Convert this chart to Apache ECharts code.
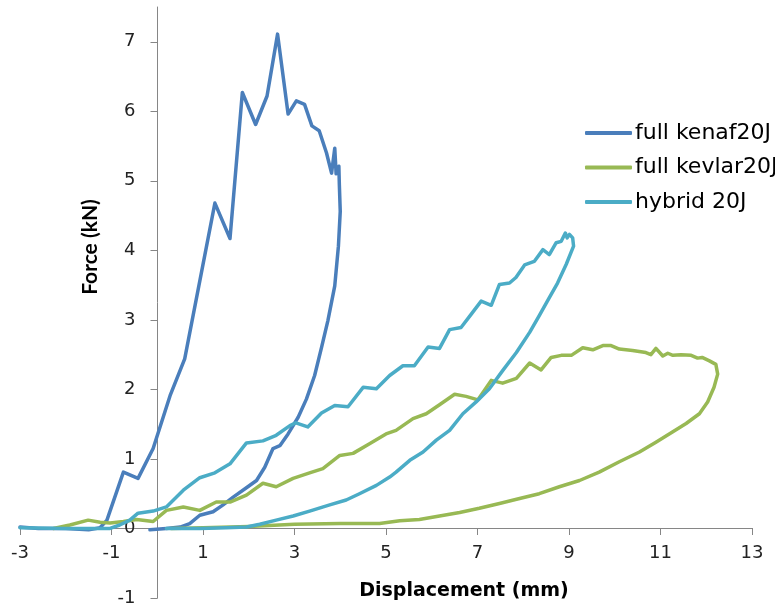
<!DOCTYPE html>
<html>
<head>
<meta charset="utf-8">
<script src="https://cdn.jsdelivr.net/npm/echarts@6/dist/echarts.min.js"></script>
<style>
  html, body { margin: 0; padding: 0; background: #fff; }
  #chart { width: 775px; height: 607px; }
</style>
</head>
<body>
<div id="chart"></div>
<script>
var seriesNames = ['full kenaf20J', 'full kevlar20J', 'hybrid 20J'];
var xTitle = 'Displacement (mm)';
var yTitle = 'Force (kN)';
var xTicks = [-3, -1, 1, 3, 5, 7, 9, 11, 13];
var yTicks = [-1, 0, 1, 2, 3, 4, 5, 6, 7];

var kenafX = [-3, -2.6, -2, -1.5, -1.25, -1.1, -0.74, -0.42, -0.09, 0.28, 0.6, 1.26, 1.59, 1.86, 2.15, 2.4, 2.63, 2.86, 3.04, 3.22, 3.38, 3.54, 3.7, 3.81, 3.88, 3.91, 3.97, 3.98, 4.0, 3.96, 3.88, 3.73, 3.59, 3.44, 3.26, 3.08, 2.86, 2.68, 2.53, 2.35, 2.17, 1.98, 1.66, 1.44, 1.22, 0.93, 0.71, 0.5, 0.2, -0.16];
var kenafY = [0.02, 0, 0, -0.02, 0.01, 0.12, 0.81, 0.72, 1.15, 1.91, 2.44, 4.68, 4.17, 6.27, 5.81, 6.22, 7.11, 5.96, 6.15, 6.1, 5.79, 5.72, 5.4, 5.11, 5.47, 5.1, 5.21, 4.95, 4.56, 4.06, 3.49, 2.99, 2.6, 2.2, 1.86, 1.6, 1.36, 1.19, 1.15, 0.88, 0.69, 0.6, 0.45, 0.34, 0.24, 0.19, 0.07, 0.02, 0, -0.02];

var kevlarX = [-2.27, -1.91, -1.51, -1.25, -1.03, -0.74, -0.45, -0.09, 0.2, 0.57, 0.93, 1.29, 1.59, 1.95, 2.31, 2.6, 2.97, 3.33, 3.62, 3.99, 4.28, 4.64, 5.0, 5.22, 5.59, 5.88, 6.17, 6.5, 6.75, 7.01, 7.3, 7.55, 7.85, 8.14, 8.39, 8.61, 8.83, 9.05, 9.3, 9.52, 9.74, 9.92, 10.1, 10.39, 10.68, 10.79, 10.9, 11.05, 11.16, 11.27, 11.45, 11.67, 11.81, 11.91, 12.07, 12.21, 12.25, 12.17, 12.03, 11.85, 11.56, 11.27, 10.9, 10.54, 10.1, 9.66, 9.23, 8.79, 8.35, 7.92, 7.48, 7.04, 6.61, 6.17, 5.73, 5.3, 4.86, 4.0, 3.0, 2.0, 1.0, 0.3];
var kevlarY = [0, 0.05, 0.12, 0.09, 0.08, 0.1, 0.13, 0.1, 0.26, 0.31, 0.26, 0.38, 0.38, 0.48, 0.65, 0.6, 0.72, 0.8, 0.86, 1.05, 1.08, 1.22, 1.36, 1.41, 1.58, 1.65, 1.78, 1.93, 1.9, 1.85, 2.13, 2.09, 2.16, 2.38, 2.28, 2.46, 2.49, 2.49, 2.6, 2.57, 2.63, 2.63, 2.58, 2.56, 2.53, 2.5, 2.59, 2.48, 2.52, 2.49, 2.5, 2.49, 2.45, 2.46, 2.41, 2.36, 2.22, 2.03, 1.82, 1.65, 1.51, 1.39, 1.24, 1.1, 0.96, 0.81, 0.69, 0.6, 0.5, 0.43, 0.36, 0.29, 0.23, 0.18, 0.13, 0.11, 0.07, 0.07, 0.06, 0.03, 0.01, 0];

var hybridX = [-3, -2, -1.03, -0.82, -0.6, -0.42, -0.09, 0.2, 0.57, 0.93, 1.26, 1.59, 1.95, 2.31, 2.6, 2.9, 3.03, 3.29, 3.59, 3.88, 4.17, 4.5, 4.79, 5.08, 5.37, 5.62, 5.92, 6.17, 6.39, 6.64, 6.86, 7.08, 7.3, 7.48, 7.7, 7.84, 8.03, 8.24, 8.43, 8.57, 8.72, 8.83, 8.92, 8.96, 9.01, 9.08, 9.1, 8.94, 8.75, 8.57, 8.35, 8.14, 7.85, 7.55, 7.26, 6.97, 6.68, 6.39, 6.1, 5.81, 5.52, 5.22, 5.08, 4.79, 4.42, 4.13, 3.77, 3.33, 2.97, 2.6, 2.24, 1.95, 1.5, 0.93, 0.2];
var hybridY = [0.01, 0, 0, 0.05, 0.12, 0.22, 0.25, 0.31, 0.55, 0.73, 0.8, 0.93, 1.23, 1.26, 1.34, 1.48, 1.52, 1.46, 1.66, 1.77, 1.75, 2.03, 2.01, 2.2, 2.34, 2.34, 2.61, 2.59, 2.86, 2.89, 3.08, 3.27, 3.21, 3.51, 3.53, 3.61, 3.79, 3.84, 4.01, 3.94, 4.11, 4.13, 4.25, 4.18, 4.23, 4.18, 4.06, 3.8, 3.53, 3.32, 3.06, 2.82, 2.53, 2.27, 2.01, 1.82, 1.65, 1.41, 1.27, 1.1, 0.98, 0.81, 0.74, 0.62, 0.5, 0.41, 0.34, 0.25, 0.18, 0.12, 0.06, 0.02, 0.01, 0, 0];

function pairs(xs, ys) {
  return xs.map(function(x, i) { return [x, ys[i]]; });
}

var colors = ['#4a7ebb', '#98b954', '#4bacc6'];
var wideFont = '"DejaVu Sans", sans-serif';
var narrowFont = 'Lato, "Open Sans", sans-serif';

var chart = echarts.init(document.getElementById('chart'));

function lineSeries(name, data, color) {
  return {
    name: name,
    type: 'line',
    data: data,
    showSymbol: false,
    symbol: 'none',
    smooth: false,
    clip: false,
    lineStyle: { color: color, width: 3.5, cap: 'round', join: 'round' },
    itemStyle: { color: color }
  };
}

var option = {
  animation: false,
  color: colors,
  grid: { left: 20, right: 23, top: 7, bottom: 9, containLabel: false },
  legend: {
    orient: 'vertical',
    left: 585,
    top: 122,
    padding: 0,
    itemWidth: 47,
    itemHeight: 4,
    itemGap: 12.5,
    icon: 'roundRect',
    textStyle: { fontFamily: wideFont, fontSize: 22, lineHeight: 22, color: '#000', padding: [0, 0, 0, -2] },
    data: seriesNames
  },
  graphic: [
    {
      type: 'text', x: 464, y: 591,
      style: { text: xTitle, font: 'bold 19px ' + wideFont, fill: '#000', align: 'center', verticalAlign: 'middle' }
    },
    {
      type: 'text', x: 90, y: 247, rotation: Math.PI / 2,
      style: { text: yTitle, font: 'bold 21px ' + narrowFont, fill: '#000', align: 'center', verticalAlign: 'middle' }
    }
  ],
  xAxis: {
    type: 'value',
    min: -3,
    max: 13,
    position: 'bottom',
    offset: -70,
    axisLine: { onZero: false, lineStyle: { color: '#868686', width: 1 } },
    axisTick: { show: true, length: 7, customValues: xTicks, lineStyle: { color: '#868686' } },
    axisLabel: { show: true, customValues: xTicks, margin: 16, fontFamily: wideFont, fontSize: 18, color: '#222' },
    splitLine: { show: false }
  },
  yAxis: {
    type: 'value',
    min: -1,
    max: 7.5,
    position: 'left',
    offset: -137.5,
    axisLine: { onZero: false, lineStyle: { color: '#868686', width: 1 } },
    axisTick: { show: true, length: 7, customValues: yTicks, lineStyle: { color: '#868686' } },
    axisLabel: { show: true, customValues: yTicks, margin: 22, fontFamily: wideFont, fontSize: 18, color: '#222' },
    splitLine: { show: false }
  },
  series: [
    lineSeries(seriesNames[0], pairs(kenafX, kenafY), colors[0]),
    lineSeries(seriesNames[1], pairs(kevlarX, kevlarY), colors[1]),
    lineSeries(seriesNames[2], pairs(hybridX, hybridY), colors[2])
  ]
};

chart.setOption(option);
</script>
</body>
</html>
